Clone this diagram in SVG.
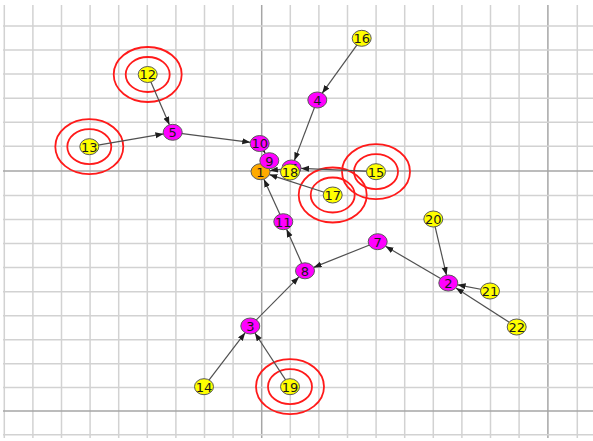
<svg xmlns="http://www.w3.org/2000/svg" width="593" height="441" viewBox="0 0 593 441">
  <style>
    .g { stroke: #d2d2d2; stroke-width: 1.5; }
    .gd { stroke: #a6a6a6; stroke-width: 1.5; }
    .ring { fill: none; stroke: #ff1a1a; stroke-width: 1.8; }
    .e { stroke: #505050; stroke-width: 1.2; fill: none; marker-end: url(#arrow); }
    .n { stroke: #5a5a5a; stroke-width: 1; }
    .leaf { fill: #ffff00; }
    .inner { fill: #ff00ff; }
    .root { fill: #ffaa00; }
    text { font-family: "DejaVu Sans", "Liberation Sans", sans-serif; font-size: 13px; fill: #1a1a1a; text-anchor: middle; dominant-baseline: central; }
  </style>
  <defs>
    <marker id="arrow" markerUnits="userSpaceOnUse" markerWidth="9" markerHeight="7" refX="8" refY="3" orient="auto">
      <path d="M0,0 L8,3 L0,6 z" fill="#1e1e1e"/>
    </marker>
  </defs>
  <rect width="593" height="441" fill="#ffffff"/>

  <!-- background grid -->
  <g id="grid">
    <line class="g" x1="4.3" y1="5" x2="4.3" y2="438"/>
    <line class="g" x1="32.9" y1="5" x2="32.9" y2="438"/>
    <line class="g" x1="61.5" y1="5" x2="61.5" y2="438"/>
    <line class="g" x1="90.1" y1="5" x2="90.1" y2="438"/>
    <line class="g" x1="118.7" y1="5" x2="118.7" y2="438"/>
    <line class="g" x1="147.3" y1="5" x2="147.3" y2="438"/>
    <line class="g" x1="175.9" y1="5" x2="175.9" y2="438"/>
    <line class="g" x1="204.5" y1="5" x2="204.5" y2="438"/>
    <line class="g" x1="233.1" y1="5" x2="233.1" y2="438"/>
    <line class="gd" x1="261.7" y1="5" x2="261.7" y2="438"/>
    <line class="g" x1="290.3" y1="5" x2="290.3" y2="438"/>
    <line class="g" x1="318.9" y1="5" x2="318.9" y2="438"/>
    <line class="g" x1="347.5" y1="5" x2="347.5" y2="438"/>
    <line class="g" x1="376.1" y1="5" x2="376.1" y2="438"/>
    <line class="g" x1="404.7" y1="5" x2="404.7" y2="438"/>
    <line class="g" x1="433.3" y1="5" x2="433.3" y2="438"/>
    <line class="g" x1="461.9" y1="5" x2="461.9" y2="438"/>
    <line class="g" x1="490.5" y1="5" x2="490.5" y2="438"/>
    <line class="g" x1="519.1" y1="5" x2="519.1" y2="438"/>
    <line class="gd" x1="547.9" y1="5" x2="547.9" y2="438"/>
    <line class="g" x1="577.3" y1="5" x2="577.3" y2="438"/>

    <line class="g" x1="3" y1="26" x2="593" y2="26"/>
    <line class="g" x1="3" y1="50.1" x2="593" y2="50.1"/>
    <line class="g" x1="3" y1="74.1" x2="593" y2="74.1"/>
    <line class="g" x1="3" y1="98.2" x2="593" y2="98.2"/>
    <line class="g" x1="3" y1="122.2" x2="593" y2="122.2"/>
    <line class="g" x1="3" y1="146.3" x2="593" y2="146.3"/>
    <line class="gd" x1="3" y1="171" x2="593" y2="171"/>
    <line class="g" x1="3" y1="195.4" x2="593" y2="195.4"/>
    <line class="g" x1="3" y1="219.5" x2="593" y2="219.5"/>
    <line class="g" x1="3" y1="243.5" x2="593" y2="243.5"/>
    <line class="g" x1="3" y1="267.6" x2="593" y2="267.6"/>
    <line class="g" x1="3" y1="291.7" x2="593" y2="291.7"/>
    <line class="g" x1="3" y1="315.7" x2="593" y2="315.7"/>
    <line class="g" x1="3" y1="339.8" x2="593" y2="339.8"/>
    <line class="g" x1="3" y1="363.8" x2="593" y2="363.8"/>
    <line class="g" x1="3" y1="387.4" x2="593" y2="387.4"/>
    <line class="gd" x1="3" y1="411" x2="593" y2="411"/>
    <line class="g" x1="3" y1="434.8" x2="593" y2="434.8"/>
  </g>

  <!-- double red rings around highlighted leaves -->
  <g id="highlights">
    <ellipse class="ring" cx="147.7" cy="74.5" rx="22" ry="17.5"/>
    <ellipse class="ring" cx="147.7" cy="74.5" rx="34" ry="27.5"/>
    <ellipse class="ring" cx="89.3" cy="146.7" rx="22" ry="17.5"/>
    <ellipse class="ring" cx="89.3" cy="146.7" rx="34" ry="27.5"/>
    <ellipse class="ring" cx="376" cy="171.7" rx="22" ry="17.5"/>
    <ellipse class="ring" cx="376" cy="171.7" rx="34" ry="27.5"/>
    <ellipse class="ring" cx="332.7" cy="195" rx="22" ry="17.5"/>
    <ellipse class="ring" cx="332.7" cy="195" rx="34" ry="27.5"/>
    <ellipse class="ring" cx="290" cy="386.7" rx="22" ry="17.5"/>
    <ellipse class="ring" cx="290" cy="386.7" rx="34" ry="27.5"/>
  </g>

  <!-- directed edges, child to parent -->
  <g id="edges">
    <line class="e" x1="361.7" y1="38.3" x2="322.2" y2="93.2"/>
    <line class="e" x1="317.3" y1="100" x2="294.4" y2="160.4"/>
    <line class="e" x1="376" y1="171.7" x2="301" y2="168.4"/>
    <line class="e" x1="291.5" y1="168" x2="269.9" y2="170.6"/>
    <line class="e" x1="332.7" y1="195" x2="269.4" y2="174.6"/>
    <line class="e" x1="283.3" y1="221.7" x2="263.9" y2="179.2"/>
    <line class="e" x1="305" y1="270.8" x2="286.6" y2="229.2"/>
    <line class="e" x1="250.3" y1="326" x2="298.9" y2="276.9"/>
    <line class="e" x1="204" y1="386.7" x2="245.2" y2="332.7"/>
    <line class="e" x1="290" y1="386.7" x2="254.9" y2="333"/>
    <line class="e" x1="377.7" y1="241.7" x2="313.6" y2="267.4"/>
    <line class="e" x1="448.3" y1="283" x2="385.5" y2="246.3"/>
    <line class="e" x1="433.3" y1="219" x2="446.5" y2="275.2"/>
    <line class="e" x1="490" y1="291" x2="457.6" y2="284.8"/>
    <line class="e" x1="516.7" y1="327" x2="455.9" y2="287.9"/>
    <line class="e" x1="147.7" y1="74.5" x2="169.4" y2="124.8"/>
    <line class="e" x1="89.3" y1="146.7" x2="163.4" y2="133.9"/>
    <line class="e" x1="172.7" y1="132.3" x2="250.3" y2="142.3"/>
    <line class="e" x1="259.7" y1="143.5" x2="265.3" y2="153.5"/>
  </g>

  <!-- nodes -->
  <g id="node-1"><ellipse class="n root" cx="260.5" cy="171.7" rx="9.5" ry="8"/><text x="260.5" y="172">1</text></g>
  <g id="node-2"><ellipse class="n inner" cx="448.3" cy="283" rx="9.5" ry="8"/><text x="448.3" y="283.3">2</text></g>
  <g id="node-3"><ellipse class="n inner" cx="250.3" cy="326" rx="9.5" ry="8"/><text x="250.3" y="326.3">3</text></g>
  <g id="node-4"><ellipse class="n inner" cx="317.3" cy="100" rx="9.5" ry="8"/><text x="317.3" y="100.3">4</text></g>
  <g id="node-5"><ellipse class="n inner" cx="172.7" cy="132.3" rx="9.5" ry="8"/><text x="172.7" y="132.6">5</text></g>
  <g id="node-6"><ellipse class="n inner" cx="291.5" cy="168" rx="9.5" ry="8"/><text x="294" y="168.3">6</text></g>
  <g id="node-7"><ellipse class="n inner" cx="377.7" cy="241.7" rx="9.5" ry="8"/><text x="377.7" y="242">7</text></g>
  <g id="node-8"><ellipse class="n inner" cx="305" cy="270.8" rx="9.5" ry="8"/><text x="305" y="271.1">8</text></g>
  <g id="node-9"><ellipse class="n inner" cx="269.3" cy="160.7" rx="9.5" ry="8"/><text x="269.3" y="161">9</text></g>
  <g id="node-10"><ellipse class="n inner" cx="259.7" cy="143.5" rx="9.5" ry="8"/><text x="259.7" y="143.8">10</text></g>
  <g id="node-11"><ellipse class="n inner" cx="283.3" cy="221.7" rx="9.5" ry="8"/><text x="283.3" y="222">11</text></g>
  <g id="node-12"><ellipse class="n leaf" cx="147.7" cy="74.5" rx="9.5" ry="8"/><text x="147.7" y="74.8">12</text></g>
  <g id="node-13"><ellipse class="n leaf" cx="89.3" cy="146.7" rx="9.5" ry="8"/><text x="89.3" y="147">13</text></g>
  <g id="node-14"><ellipse class="n leaf" cx="204" cy="386.7" rx="9.5" ry="8"/><text x="204" y="387">14</text></g>
  <g id="node-15"><ellipse class="n leaf" cx="376" cy="171.7" rx="9.5" ry="8"/><text x="376" y="172">15</text></g>
  <g id="node-16"><ellipse class="n leaf" cx="361.7" cy="38.3" rx="9.5" ry="8"/><text x="361.7" y="38.6">16</text></g>
  <g id="node-17"><ellipse class="n leaf" cx="332.7" cy="195" rx="9.5" ry="8"/><text x="332.7" y="195.3">17</text></g>
  <g id="node-18"><ellipse class="n leaf" cx="290" cy="172" rx="9.5" ry="8"/><text x="290" y="172.3">18</text></g>
  <g id="node-19"><ellipse class="n leaf" cx="290" cy="386.7" rx="9.5" ry="8"/><text x="290" y="387">19</text></g>
  <g id="node-20"><ellipse class="n leaf" cx="433.3" cy="219" rx="9.5" ry="8"/><text x="433.3" y="219.3">20</text></g>
  <g id="node-21"><ellipse class="n leaf" cx="490" cy="291" rx="9.5" ry="8"/><text x="490" y="291.3">21</text></g>
  <g id="node-22"><ellipse class="n leaf" cx="516.7" cy="327" rx="9.5" ry="8"/><text x="516.7" y="327.3">22</text></g>
</svg>
